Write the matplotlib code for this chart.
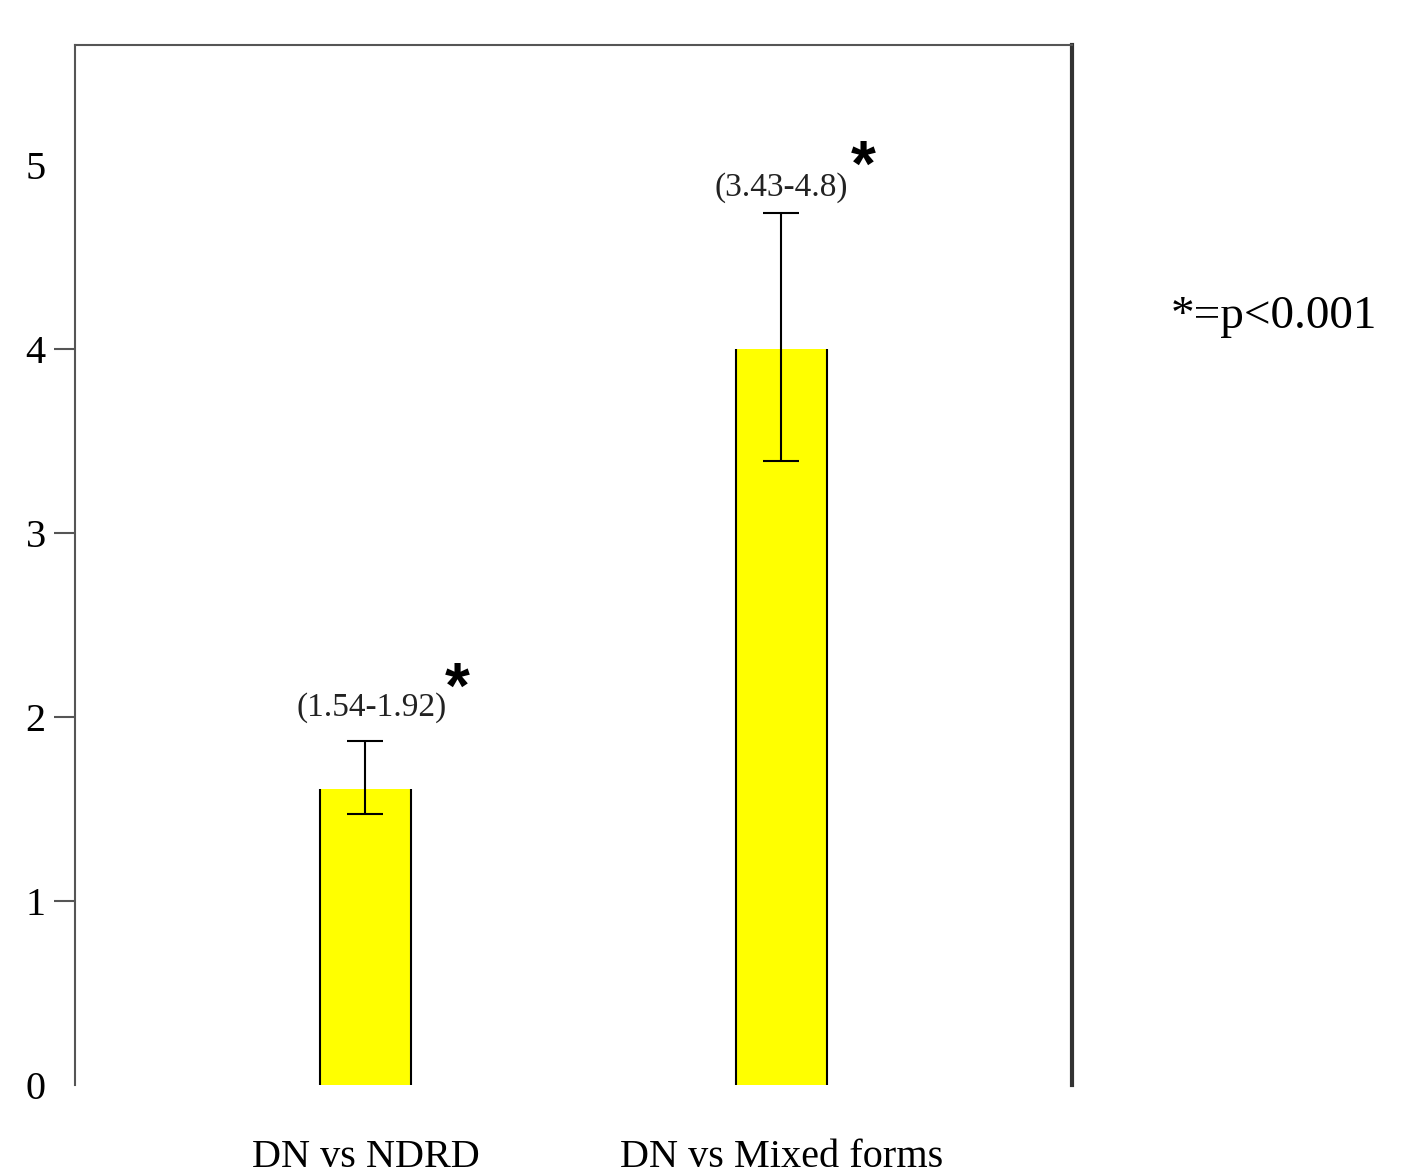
import matplotlib.pyplot as plt

# Odds ratios with 95% CI
categories = ["DN vs NDRD", "DN vs Mixed forms"]
values = [1.61, 4.0]
err_low = [1.475, 3.39]
err_high = [1.87, 4.74]
ci_labels = ["(1.54-1.92)", "(3.43-4.8)"]
y_ticks = [0, 1, 2, 3, 4, 5]

plt.rcParams['font.family'] = ['Liberation Serif', 'DejaVu Serif']

fig = plt.figure(figsize=(14.1, 11.75), dpi=100)
ax = fig.add_axes([0.0532, 0.0766, 0.707, 0.885])

x = list(range(len(categories)))
width = 0.219

# yellow bars, only side edges are outlined
ax.bar(x, values, width=width, color='#FFFF00', edgecolor='none', zorder=2)
for xi, v in zip(x, values):
    ax.vlines([xi - width / 2, xi + width / 2], 0, v, color='black', linewidth=1.5, zorder=3)

yerr = [[v - lo for v, lo in zip(values, err_low)],
        [hi - v for v, hi in zip(values, err_high)]]
ax.errorbar(x, values, yerr=yerr, fmt='none', ecolor='black', elinewidth=1.5,
            capsize=13.3, capthick=1.5, zorder=4)

# CI labels and significance stars
ci_pos = [(0.016, 2.05), (1.0, 4.875)]
star_pos = [(0.22, 2.14), (1.196, 4.98)]
for lab, (tx, ty), (sx, sy) in zip(ci_labels, ci_pos, star_pos):
    ax.text(tx, ty, lab, ha='center', va='center', fontsize=24, color='#222222')
    ax.text(sx, sy, '*', ha='center', va='center', fontsize=46, fontweight='bold',
            family=['Liberation Sans'])

fig.text(0.9035, 0.73, '*=p<0.001', ha='center', va='center', fontsize=34)

ax.set_xlim(-0.698, 1.698)
ax.set_ylim(0, 5.65)

ax.set_yticks(y_ticks)
ax.set_yticklabels([str(t) for t in y_ticks], fontsize=29)
ax.tick_params(axis='y', length=15, width=1.5, color='#555555', pad=6)
for i, tl in enumerate(ax.yaxis.get_major_ticks()):
    if y_ticks[i] in (0, 5):
        tl.tick1line.set_visible(False)

ax.set_xticks(x)
ax.set_xticklabels(categories, fontsize=29)
ax.tick_params(axis='x', length=0, pad=39)

ax.spines['bottom'].set_visible(False)
ax.spines['left'].set_color('#555555')
ax.spines['left'].set_linewidth(1.5)
ax.spines['top'].set_color('#555555')
ax.spines['top'].set_linewidth(1.5)
ax.spines['right'].set_color('#333333')
ax.spines['right'].set_linewidth(3)

plt.savefig('out.png', dpi=100)
plt.close()
